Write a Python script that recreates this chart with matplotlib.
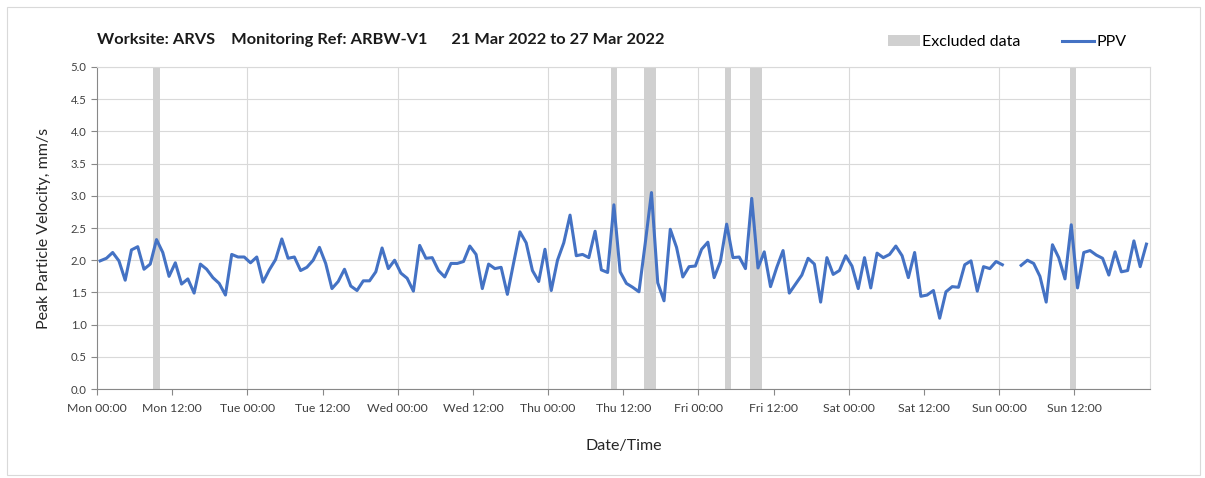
import numpy as np
import matplotlib
matplotlib.use('Agg')
import matplotlib.pyplot as plt
from matplotlib.patches import Patch, Rectangle
from matplotlib.lines import Line2D

plt.rcParams['font.family'] = ['Lato', 'DejaVu Sans']

# hourly PPV readings, Mon 00:00 to Sun 23:00 (one per hour, plotted mid-hour)
ppv = [
    1.99, 2.03, 2.12, 1.99, 1.69, 2.16, 2.21, 1.86, 1.94, 2.32,
    2.12, 1.75, 1.96, 1.63, 1.71, 1.49, 1.94, 1.86, 1.73, 1.64,
    1.46, 2.09, 2.05, 2.05, 1.96, 2.05, 1.66, 1.85, 2.01, 2.33,
    2.03, 2.05, 1.84, 1.89, 2.00, 2.20, 1.95, 1.56, 1.67, 1.86,
    1.60, 1.53, 1.68, 1.68, 1.82, 2.19, 1.87, 2.00, 1.80, 1.72,
    1.52, 2.23, 2.03, 2.04, 1.84, 1.74, 1.95, 1.95, 1.98, 2.22,
    2.09, 1.56, 1.94, 1.87, 1.89, 1.47, 1.96, 2.44, 2.27, 1.84,
    1.67, 2.17, 1.53, 2.00, 2.27, 2.70, 2.07, 2.09, 2.04, 2.45,
    1.85, 1.81, 2.86, 1.82, 1.64, 1.58, 1.51, 2.26, 3.05, 1.65,
    1.37, 2.48, 2.20, 1.74, 1.90, 1.91, 2.17, 2.28, 1.73, 1.98,
    2.56, 2.04, 2.05, 1.87, 2.96, 1.88, 2.13, 1.59, 1.89, 2.15,
    1.49, 1.63, 1.77, 2.03, 1.94, 1.35, 2.04, 1.78, 1.84, 2.07,
    1.91, 1.56, 2.04, 1.57, 2.11, 2.04, 2.09, 2.22, 2.07, 1.73,
    2.12, 1.44, 1.46, 1.53, 1.10, 1.51, 1.59, 1.58, 1.93, 1.99,
    1.52, 1.90, 1.87, 1.98, 1.93, np.nan, np.nan, 1.92, 2.00, 1.95,
    1.75, 1.35, 2.24, 2.04, 1.71, 2.55, 1.57, 2.12, 2.15, 2.08,
    2.03, 1.77, 2.13, 1.82, 1.84, 2.30, 1.90, 2.25,
]
hours = np.arange(len(ppv)) + 0.5

# excluded periods (start hour, end hour from Mon 00:00)
excl_start = [9.0, 82.0, 87.3, 100.2, 104.2, 155.3]
excl_end = [10.0, 83.0, 89.2, 101.2, 106.1, 156.2]

days = ['Mon', 'Tue', 'Wed', 'Thu', 'Fri', 'Sat', 'Sun']
tick_labels = []
for d in days:
    tick_labels += [d + ' 00:00', d + ' 12:00']

fig = plt.figure(figsize=(12.05, 4.78), dpi=100)
ax = fig.add_axes([0.0805, 0.186, 0.8735, 0.674])

fig.patches.append(Rectangle((0.006, 0.006), 0.99, 0.98, transform=fig.transFigure,
                             fill=False, edgecolor='#d9d9d9', lw=0.8))

for s, e in zip(excl_start, excl_end):
    ax.axvspan(s, e, color='#d0d0d0', lw=0, zorder=1)

for h in range(24, 168, 24):
    ax.axvline(h, color='#d9d9d9', lw=0.8, zorder=0)

ax.plot(hours, ppv, color='#4472c4', lw=2.2, zorder=3)

ax.set_xlim(0, 168)
ax.set_ylim(0, 5)
ax.set_xticks(np.arange(0, 168, 12))
ax.set_xticklabels(tick_labels)
ax.set_yticks(np.arange(0, 5.01, 0.5))
ax.set_yticklabels(['%.1f' % v for v in np.arange(0, 5.01, 0.5)])
ax.yaxis.grid(True, color='#d9d9d9', lw=0.8)
ax.set_axisbelow(True)
ax.tick_params(axis='both', length=4, width=0.8, colors='#888888')
ax.tick_params(axis='x', labelsize=8.8, pad=6)
ax.tick_params(axis='y', labelsize=8.2)
for lab in ax.get_xticklabels() + ax.get_yticklabels():
    lab.set_color('#404040')
for sp in ['left', 'bottom']:
    ax.spines[sp].set_color('#888888')
for sp in ['top', 'right']:
    ax.spines[sp].set_color('#d9d9d9')

ax.set_ylabel('Peak Particle Velocity, mm/s', fontsize=11.5, color='#262626', labelpad=14)
ax.set_xlabel('Date/Time', fontsize=11.5, color='#262626', labelpad=18)

fig.text(0.0805, 0.907, 'Worksite: ARVS    Monitoring Ref: ARBW-V1      21 Mar 2022 to 27 Mar 2022',
         fontsize=11.8, fontweight='bold', color='#1a1a1a')

handles = [Patch(facecolor='#d0d0d0', edgecolor='none', label='Excluded data'),
           Line2D([0], [0], color='#4472c4', lw=2.2, label='PPV')]
fig.legend(handles=handles, loc='center', bbox_to_anchor=(0.836, 0.912), ncol=2,
           frameon=False, fontsize=11.5, handlelength=2.0, handletextpad=0.15,
           columnspacing=2.6)

fig.savefig('out.png', dpi=100)
